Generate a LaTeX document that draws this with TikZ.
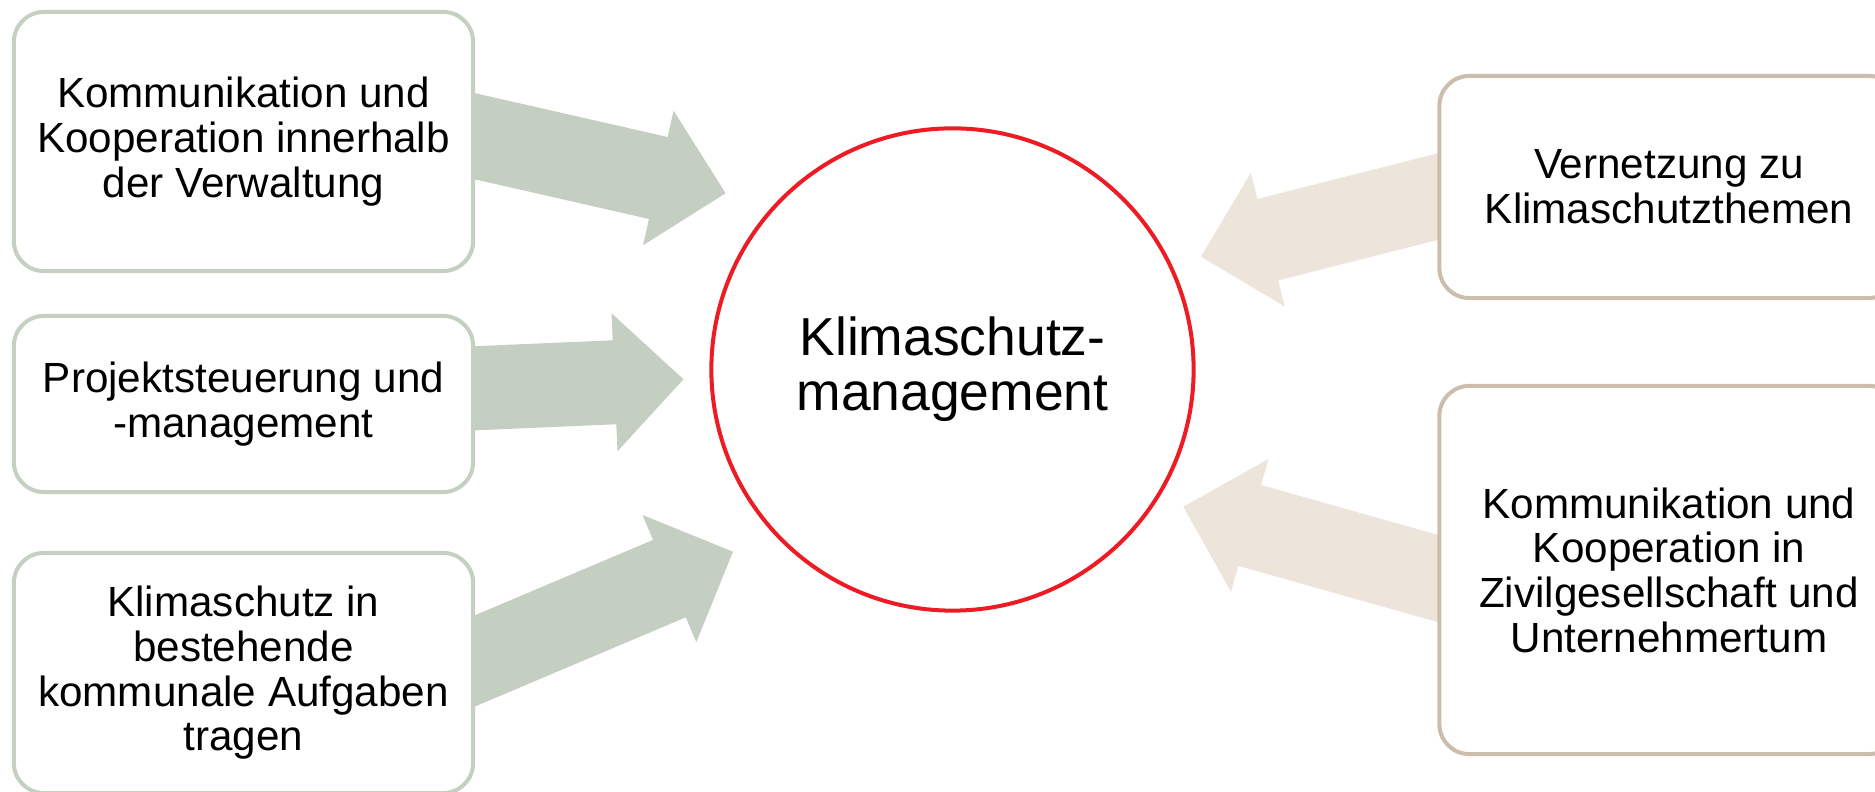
\documentclass[tikz,border=0pt]{standalone}
\usepackage{fontspec}
\setmainfont{Liberation Sans}
\usetikzlibrary{calc}
\pgfdeclarelayer{background}
\pgfsetlayers{background,main}
\definecolor{sage}{RGB}{196,206,193}
\definecolor{sageline}{RGB}{197,207,194}
\definecolor{sand}{RGB}{237,229,220}
\definecolor{sandline}{RGB}{204,189,172}
\definecolor{kred}{RGB}{237,28,36}
% #1 tail, #2 tip, #3 fill colour
\newcommand{\myblockarrow}[3]{%
  \coordinate (H) at ($(#2)!0.69cm!(#1)$);
  \coordinate (T) at ($(#2)!1.25!(#1)$);
  \fill[#3] ($(T)!0.42cm!90:(#2)$) -- ($(H)!0.42cm!90:(#2)$) -- ($(H)!0.69cm!90:(#2)$)
    -- (#2) -- ($(H)!0.69cm!-90:(#2)$) -- ($(H)!0.42cm!-90:(#2)$) -- ($(T)!0.42cm!-90:(#2)$) -- cycle;
}
\begin{document}
\begin{tikzpicture}[x=0.01cm,y=-0.01cm,
  box/.style={draw=#1, line width=1.14pt, fill=white, rounded corners=0.3cm,
    minimum width=4.59cm, inner sep=0pt, align=center,
    font=\fontsize{12}{12.7}\selectfont},
  hub/.style={circle, draw=kred, line width=1.14pt, fill=white, minimum size=4.82cm,
    inner sep=0pt, align=center, font=\fontsize{15.2}{15.6}\selectfont}]
\useasboundingbox (0,0) rectangle (1875,792);

\node[box=sageline, minimum height=2.59cm] (b1) at (243.5,141.5)
  {Kommunikation und\\Kooperation innerhalb\\der Verwaltung};
\node[box=sageline, minimum height=1.76cm] (b2) at (243.5,404)
  {Projektsteuerung und\\-management};
\node[box=sageline, minimum height=2.40cm] (b3) at (243.5,673)
  {Klimaschutz in\\bestehende\\kommunale Aufgaben\\tragen};
\node[box=sandline, minimum height=2.22cm] (r1) at (1669,187)
  {Vernetzung zu\\Klimaschutzthemen};
\node[box=sandline, minimum height=3.68cm] (r2) at (1669,570)
  {Kommunikation und\\Kooperation in\\Zivilgesellschaft und\\Unternehmertum};
\node[hub] (km) at (952.5,369.5) {Klimaschutz-\\management};

\coordinate (t1) at ($(b1.east)+(0,-5.2)$);
\coordinate (t2) at ($(b2.east)+(0,-15.7)$);
\coordinate (t3) at ($(b3.east)+(0,-12.2)$);
\coordinate (t4) at ($(r1.west)+(0,9.7)$);
\coordinate (t5) at ($(r2.west)+(0,8.4)$);
\coordinate (p1) at (725.6,193.3);
\coordinate (p2) at (683.5,379.3);
\coordinate (p3) at (733,551.7);
\coordinate (p4) at (1200.9,256.7);
\coordinate (p5) at (1183.3,506.7);

\begin{pgfonlayer}{background}
  \myblockarrow{t1}{p1}{sage}
  \myblockarrow{t2}{p2}{sage}
  \myblockarrow{t3}{p3}{sage}
  \myblockarrow{t4}{p4}{sand}
  \myblockarrow{t5}{p5}{sand}
\end{pgfonlayer}
\end{tikzpicture}
\end{document}
